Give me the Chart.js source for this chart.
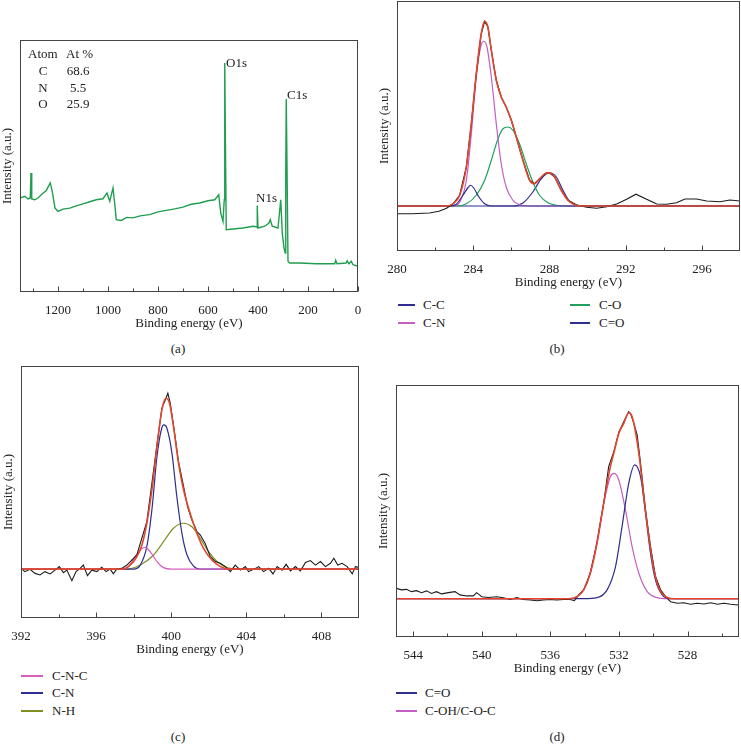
<!DOCTYPE html>
<html>
<head>
<meta charset="utf-8">
<script src="https://cdn.jsdelivr.net/npm/chart.js@4/dist/chart.umd.min.js"></script>
<style>
  body { margin: 0; width: 741px; height: 755px; position: relative; overflow: hidden; background: #fff;
         font-family: 'Liberation Serif', 'DejaVu Serif', serif; color: #222; }
  canvas { position: absolute; }
  .lbl { position: absolute; font-size: 13px; line-height: 16px; white-space: nowrap; transform: translateY(-50%); }
  .ctr { transform: translate(-50%, -50%); }
  .key { position: absolute; height: 1.5px; margin-top: -1px; }
</style>
</head>
<body>
<canvas id="chartA"></canvas>
<canvas id="chartB"></canvas>
<canvas id="chartC"></canvas>
<canvas id="chartD"></canvas>

<!-- (a) composition table and peak names -->
<div class="lbl" style="left:28px; top:54px">Atom</div>
<div class="lbl" style="left:66px; top:54px">At %</div>
<div class="lbl ctr" style="left:43px; top:71px">C</div>
<div class="lbl ctr" style="left:78px; top:71px">68.6</div>
<div class="lbl ctr" style="left:43px; top:88px">N</div>
<div class="lbl ctr" style="left:78px; top:88px">5.5</div>
<div class="lbl ctr" style="left:43px; top:104px">O</div>
<div class="lbl ctr" style="left:78px; top:104px">25.9</div>
<div class="lbl" style="left:226px; top:63px">O1s</div>
<div class="lbl" style="left:287px; top:95px">C1s</div>
<div class="lbl" style="left:256px; top:198px">N1s</div>

<!-- legends -->
<div class="key" style="left:398px; width:17px; top:305px; background:#2e2e8e"></div>
<div class="lbl" style="left:423px; top:305px">C-C</div>
<div class="key" style="left:398px; width:17px; top:323px; background:#c45ec4"></div>
<div class="lbl" style="left:423px; top:323px">C-N</div>
<div class="key" style="left:570px; width:20px; top:305px; background:#21a05c"></div>
<div class="lbl" style="left:599px; top:305px">C-O</div>
<div class="key" style="left:570px; width:20px; top:323px; background:#2e2e8e"></div>
<div class="lbl" style="left:599px; top:323px">C=O</div>

<div class="key" style="left:21px; width:22px; top:676px; background:#d85fc2"></div>
<div class="lbl" style="left:52px; top:676px">C-N-C</div>
<div class="key" style="left:21px; width:22px; top:693px; background:#2e2e8e"></div>
<div class="lbl" style="left:52px; top:693px">C-N</div>
<div class="key" style="left:21px; width:22px; top:711px; background:#7f8f22"></div>
<div class="lbl" style="left:52px; top:711px">N-H</div>

<div class="key" style="left:396px; width:21px; top:693px; background:#2e2e8e"></div>
<div class="lbl" style="left:425px; top:693px">C=O</div>
<div class="key" style="left:396px; width:21px; top:711px; background:#c45ec4"></div>
<div class="lbl" style="left:425px; top:711px">C-OH/C-O-C</div>

<!-- panel letters -->
<div class="lbl ctr" style="left:178px; top:349px">(a)</div>
<div class="lbl ctr" style="left:557px; top:349px">(b)</div>
<div class="lbl ctr" style="left:178px; top:737px">(c)</div>
<div class="lbl ctr" style="left:557px; top:737px">(d)</div>

<script>
// (a) survey spectrum: binding energy (eV) and intensity (a.u., 0-100 of the frame height)
const surveyE = [1352, 1333, 1320, 1311, 1308, 1305, 1293, 1280, 1267, 1247, 1231, 1223, 1212, 1200, 1180, 1153, 1127, 1100, 1073, 1047, 1020, 1004, 993, 980, 972, 967, 947, 925, 900, 867, 833, 800, 767, 733, 700, 667, 633, 600, 573, 557, 549, 540, 535, 533, 531, 527, 500, 460, 420, 404, 403, 400, 373, 356, 351, 343, 320, 309, 303, 296, 291, 289, 287, 284, 280, 273, 233, 167, 93, 89, 84, 47, 43, 36, 27, 20, 0];
const surveyI = [37.3, 38.0, 36.9, 37.3, 47.2, 36.9, 36.6, 37.3, 38.6, 40.3, 43.3, 39.9, 33.3, 32.0, 32.9, 33.3, 34.2, 35.0, 35.8, 36.6, 37.0, 39.3, 36.0, 41.3, 34.0, 28.7, 28.4, 29.6, 29.4, 30.3, 30.7, 31.8, 32.4, 33.0, 33.7, 34.8, 35.3, 36.2, 36.6, 38.6, 31.3, 28.0, 36.6, 90.9, 67.1, 24.7, 25.0, 25.4, 26.1, 25.8, 34.3, 25.4, 26.1, 27.4, 28.7, 26.1, 25.4, 36.6, 23.4, 17.5, 15.5, 47.2, 76.6, 49.9, 12.2, 11.5, 11.5, 11.2, 11.2, 12.6, 11.2, 11.5, 12.4, 11.2, 12.2, 10.8, 10.2];
const surveyMajor = [1200, 1000, 800, 600, 400, 200, 0];
const surveyMinor = [1300, 1100, 900, 700, 500, 300, 100];

// (b) C1s
const c1sRawE = [280, 280.8, 281.7, 282.2, 282.6, 282.94, 283.29, 283.64, 283.9, 284.16, 284.42, 284.6, 284.77, 284.95, 285.21, 285.47, 285.73, 286.0, 286.26, 286.61, 286.96, 287.22, 287.48, 287.83, 288.0, 288.27, 288.62, 288.97, 289.43, 289.95, 290.48, 291.0, 291.53, 292.05, 292.54, 293.1, 293.63, 294.15, 294.67, 295.11, 295.72, 296.25, 296.95, 297.47, 298];
const c1sRawI = [14.9, 14.9, 15.2, 15.9, 17.1, 18.9, 22.3, 33.6, 50.9, 70.9, 86.9, 91.9, 89.6, 80.3, 68.3, 61.6, 57.6, 52.3, 45.6, 36.3, 28.3, 26.9, 28.9, 31.2, 31.3, 29.6, 24.3, 20.3, 18.4, 17.5, 17.1, 17.7, 18.8, 20.7, 22.7, 20.7, 18.8, 18.7, 19.3, 20.8, 20.8, 20.0, 19.7, 20.4, 20.0];
const c1sFitE = [280, 282.59, 282.94, 283.29, 283.64, 283.9, 284.16, 284.42, 284.6, 284.77, 284.95, 285.21, 285.47, 285.73, 286.0, 286.26, 286.61, 286.96, 287.22, 287.48, 287.83, 288.0, 288.27, 288.62, 288.97, 289.32, 289.76, 298];
const c1sFitI = [18.0, 18.0, 18.9, 22.3, 33.6, 50.9, 70.9, 86.9, 91.9, 89.6, 80.3, 68.3, 61.6, 57.6, 52.3, 45.6, 36.3, 28.3, 26.9, 28.9, 31.2, 31.3, 29.6, 24.3, 20.3, 18.5, 18.0, 18.0];
const c1sCCE = [280, 282.76, 283.11, 283.46, 283.72, 283.86, 284.02, 284.3, 284.6, 284.95, 298];
const c1sCCI = [18.0, 18.0, 18.7, 22.3, 25.3, 26.3, 25.3, 21.6, 18.9, 18.0, 18.0];
const c1sCNE = [280, 282.94, 283.29, 283.64, 283.9, 284.16, 284.39, 284.55, 284.72, 284.95, 285.21, 285.47, 285.73, 286.08, 286.52, 286.96, 298];
const c1sCNI = [18.0, 18.0, 19.6, 28.3, 46.9, 69.6, 81.6, 83.9, 81.6, 69.6, 50.9, 34.9, 25.6, 20.3, 18.3, 18.0, 18.0];
const c1sCOE = [280, 283.11, 283.64, 284.16, 284.6, 284.95, 285.3, 285.56, 285.82, 286.08, 286.43, 286.78, 287.13, 287.48, 287.92, 288.36, 288.88, 298];
const c1sCOI = [18.0, 18.0, 18.9, 22.3, 28.3, 36.3, 44.9, 48.9, 49.6, 48.3, 42.9, 34.9, 27.6, 22.3, 19.3, 18.3, 18.0, 18.0];
const c1sCdOE = [280, 286.08, 286.61, 287.13, 287.57, 288.0, 288.36, 288.71, 289.06, 289.49, 289.93, 298];
const c1sCdOI = [18.0, 18.0, 19.2, 23.6, 28.9, 31.3, 29.6, 24.3, 19.9, 18.3, 18.0, 18.0];
const c1sMajor = [280, 284, 288, 292, 296];
const c1sMinor = [282, 286, 290, 294];

// (c) N1s
const n1sRawE = [392.00, 392.21, 392.48, 392.75, 393.01, 393.28, 393.55, 393.81, 394.04, 394.26, 394.44, 394.71, 394.93, 395.15, 395.32, 395.54, 395.77, 396.04, 396.30, 396.53, 396.75, 396.92, 397.10, 397.37, 397.64, 398.17, 398.70, 399.24, 399.50, 399.72, 399.82, 399.95, 400.12, 400.39, 400.66, 400.87, 401.10, 401.37, 401.55, 401.81, 402.08, 402.35, 402.61, 402.88, 403.15, 403.41, 403.68, 403.95, 404.12, 404.39, 404.66, 404.92, 405.19, 405.42, 405.64, 405.90, 406.12, 406.35, 406.61, 406.88, 407.15, 407.41, 407.68, 407.95, 408.21, 408.48, 408.66, 408.87, 409.10, 409.37, 409.64, 409.81, 410.00];
const n1sRawI = [19.7, 18.4, 19.3, 17.7, 17.1, 18.4, 17.5, 19.0, 20.4, 18.0, 19.0, 14.8, 18.4, 19.7, 21.0, 16.8, 19.0, 18.4, 20.1, 18.4, 19.4, 17.5, 19.4, 19.7, 21.0, 25.0, 38.2, 68.7, 83.2, 87.2, 89.2, 85.2, 76.6, 62.0, 52.1, 44.2, 38.9, 34.3, 32.9, 29.6, 24.3, 22.4, 21.7, 20.4, 18.4, 21.0, 19.0, 20.4, 18.4, 19.3, 20.4, 18.4, 19.7, 17.5, 20.4, 19.0, 21.3, 18.7, 20.4, 18.7, 22.0, 22.8, 21.0, 22.4, 20.4, 21.7, 23.7, 21.0, 21.7, 20.4, 17.5, 20.4, 20.1];
const n1sFitE = [392, 397.46, 397.81, 398.17, 398.44, 398.7, 398.97, 399.24, 399.5, 399.72, 399.91, 400.12, 400.39, 400.66, 401.01, 401.37, 401.72, 402.17, 402.61, 403.15, 410];
const n1sFitI = [19.4, 19.4, 21.0, 24.3, 29.0, 37.6, 50.8, 68.0, 82.5, 87.2, 85.2, 75.9, 61.4, 50.8, 41.5, 33.6, 27.6, 23.0, 20.4, 19.4, 19.4];
const n1sCNCE = [392, 397.28, 397.72, 398.08, 398.35, 398.6, 398.88, 399.24, 399.59, 400.04, 410];
const n1sCNCI = [19.4, 19.4, 20.4, 24.3, 27.0, 28.0, 26.3, 22.4, 20.0, 19.4, 19.4];
const n1sCNE = [392, 397.99, 398.35, 398.7, 398.97, 399.24, 399.47, 399.61, 399.77, 400.04, 400.3, 400.57, 400.84, 401.19, 401.55, 410];
const n1sCNI = [19.4, 19.4, 21.0, 28.3, 42.9, 64.0, 74.6, 76.6, 75.3, 65.3, 48.1, 33.6, 25.0, 20.6, 19.4, 19.4];
const n1sNHE = [392, 397.64, 398.35, 399.06, 399.59, 400.12, 400.64, 401.1, 401.55, 401.99, 402.44, 402.97, 403.5, 410];
const n1sNHI = [19.4, 19.4, 21.0, 25.0, 30.3, 35.6, 37.6, 36.2, 31.6, 26.3, 22.4, 20.0, 19.4, 19.4];
const n1sMajor = [392, 396, 400, 404, 408];
const n1sMinor = [394, 398, 402, 406];

// (d) O1s
const o1sRawE = [544.97, 544.68, 544.39, 544.10, 543.81, 543.51, 543.22, 542.93, 542.64, 542.34, 541.95, 541.56, 541.27, 540.88, 540.49, 540.30, 540.00, 539.61, 539.13, 538.74, 538.35, 537.96, 537.57, 537.18, 536.79, 536.40, 536.01, 535.62, 535.23, 534.84, 534.60, 534.35, 534.06, 533.67, 533.28, 532.89, 532.60, 532.30, 532.01, 531.72, 531.43, 531.33, 531.13, 530.94, 530.74, 530.45, 530.16, 529.87, 529.57, 529.28, 528.99, 528.60, 528.21, 527.82, 527.43, 527.04, 526.65, 526.26, 525.87, 525.48, 525.09, 525.00];
const o1sRawI = [19.3, 18.7, 18.9, 18.0, 18.4, 17.6, 18.3, 17.3, 18.0, 17.1, 17.6, 18.0, 16.7, 16.3, 16.3, 17.6, 16.0, 15.7, 16.0, 15.6, 14.9, 15.6, 14.9, 14.7, 14.4, 14.7, 14.9, 14.7, 14.9, 14.9, 14.4, 16.7, 18.7, 25.3, 37.2, 53.0, 67.6, 73.5, 81.3, 85.4, 89.4, 88.8, 84.8, 80.2, 68.9, 50.4, 36.0, 24.1, 18.7, 16.0, 14.0, 13.4, 13.6, 13.0, 13.4, 13.1, 13.6, 13.0, 13.4, 13.0, 12.7, 13.0];
const o1sFitE = [545, 534.84, 534.45, 534.06, 533.67, 533.28, 532.89, 532.5, 532.3, 532.01, 531.72, 531.43, 531.23, 530.84, 530.55, 530.26, 529.96, 529.67, 529.28, 528.8, 525];
const o1sFitI = [15.2, 15.2, 16.0, 18.7, 25.3, 37.2, 53.0, 67.6, 72.9, 80.8, 84.8, 89.0, 87.4, 72.9, 55.7, 39.8, 26.6, 19.3, 16.0, 15.2, 15.2];
const o1sCdOE = [545, 534.06, 533.28, 532.69, 532.2, 531.82, 531.43, 531.08, 530.74, 530.45, 530.16, 529.87, 529.48, 528.99, 525];
const o1sCdOI = [15.2, 15.2, 15.6, 18.7, 27.9, 43.8, 61.0, 68.3, 63.6, 49.1, 33.2, 22.6, 16.7, 15.2, 15.2];
const o1sCOHE = [545, 535.23, 534.45, 533.87, 533.38, 532.89, 532.5, 532.27, 532.01, 531.62, 531.23, 530.84, 530.35, 529.77, 529.18, 525];
const o1sCOHI = [15.2, 15.2, 16.0, 21.3, 34.5, 53.0, 63.6, 64.9, 62.3, 50.4, 35.8, 25.3, 18.0, 15.6, 15.2, 15.2];
const o1sMajor = [544, 540, 536, 532, 528];
const o1sMinor = [542, 538, 534, 530, 526];

const FONT = { family: "'Liberation Serif', 'DejaVu Serif', serif", size: 13 };
const TEXT = '#222';

function toPoints(xs, ys) {
    return xs.map((x, i) => ({ x: x, y: ys[i] }));
}

// a line dataset; smooth fitted curves, straight segments for the measured data
function series(xs, ys, color, width, smooth, order) {
    return {
        data: toPoints(xs, ys),
        borderColor: color,
        borderWidth: width,
        pointRadius: 0,
        fill: false,
        tension: 0,
        cubicInterpolationMode: smooth ? 'monotone' : 'default',
        order: order
    };
}

// box round the plot and inward tick marks on the energy axis
const framePlugin = {
    id: 'frame',
    afterDraw(chart, args, opts) {
        const ctx = chart.ctx;
        const a = chart.chartArea;
        const x = chart.scales.x;
        const l = Math.round(a.left) + 0.5, t = Math.round(a.top) + 0.5;
        const r = Math.round(a.right) - 0.5, b = Math.round(a.bottom) - 0.5;
        ctx.save();
        ctx.strokeStyle = '#444';
        ctx.lineWidth = 1;
        ctx.strokeRect(l, t, r - l, b - t);
        ctx.beginPath();
        opts.major.forEach(v => {
            const px = Math.round(x.getPixelForValue(v)) + 0.5;
            ctx.moveTo(px, b); ctx.lineTo(px, b - 5);
        });
        opts.minor.forEach(v => {
            const px = Math.round(x.getPixelForValue(v)) + 0.5;
            ctx.moveTo(px, b); ctx.lineTo(px, b - 3);
        });
        ctx.stroke();
        ctx.restore();
    }
};

// plot: frame edges in page pixels
function makePanel(id, plot, xMin, xMax, reverse, major, minor, datasets) {
    const padR = Math.min(12, 741 - plot.R);
    const left = plot.L - 20;
    const top = Math.max(0, plot.T - 2);
    const canvas = document.getElementById(id);
    canvas.width = plot.R + padR - left;
    canvas.height = plot.B + 43 - top;
    canvas.style.left = left + 'px';
    canvas.style.top = top + 'px';

    new Chart(canvas.getContext('2d'), {
        type: 'line',
        data: { datasets: datasets },
        plugins: [framePlugin],
        options: {
            responsive: false,
            animation: false,
            devicePixelRatio: 1,
            layout: { padding: { left: 0, top: plot.T - top, right: padR, bottom: 0 } },
            plugins: {
                legend: { display: false },
                tooltip: { enabled: false },
                frame: { major: major, minor: minor }
            },
            scales: {
                x: {
                    type: 'linear',
                    min: xMin,
                    max: xMax,
                    reverse: reverse,
                    grid: { display: false },
                    border: { display: false },
                    ticks: { font: FONT, color: TEXT, padding: 3, maxRotation: 0, autoSkip: false,
                             callback: v => String(v) },
                    afterBuildTicks: s => { s.ticks = major.map(v => ({ value: v })); },
                    afterFit: s => { s.height = 43; },
                    title: { display: true, text: 'Binding energy (eV)', font: FONT, color: TEXT,
                             padding: { top: 0, bottom: 4 } }
                },
                y: {
                    min: 0,
                    max: 100,
                    grid: { display: false },
                    border: { display: false },
                    ticks: { display: false },
                    afterFit: s => { s.width = 20; },
                    title: { display: true, text: 'Intensity (a.u.)', font: FONT, color: TEXT,
                             padding: { top: 0, bottom: 0 } }
                }
            }
        }
    });
}

const RED = '#e2472d', RAW = '#1c1c1c', NAVY = '#2e2e8e', ORCHID = '#c45ec4';

makePanel('chartA', { L: 20, T: 40, R: 358, B: 292 }, 0, 1352, true, surveyMajor, surveyMinor, [
    series(surveyE, surveyI, '#1f9e4f', 1.4, false, 0)
]);

makePanel('chartB', { L: 397, T: 1, R: 740, B: 251 }, 280, 298, false, c1sMajor, c1sMinor, [
    series(c1sFitE, c1sFitI, RED, 1.6, true, 0),
    series(c1sRawE, c1sRawI, RAW, 1.2, false, 1),
    series(c1sCCE, c1sCCI, NAVY, 1.2, true, 2),
    series(c1sCNE, c1sCNI, ORCHID, 1.2, true, 2),
    series(c1sCOE, c1sCOI, '#21a05c', 1.2, true, 2),
    series(c1sCdOE, c1sCdOI, NAVY, 1.2, true, 2)
]);

makePanel('chartC', { L: 21, T: 366, R: 359, B: 618 }, 392, 410, false, n1sMajor, n1sMinor, [
    series(n1sFitE, n1sFitI, RED, 1.6, true, 0),
    series(n1sRawE, n1sRawI, RAW, 1.1, false, 1),
    series(n1sCNCE, n1sCNCI, '#d85fc2', 1.2, true, 2),
    series(n1sCNE, n1sCNI, NAVY, 1.2, true, 2),
    series(n1sNHE, n1sNHI, '#7f8f22', 1.2, true, 2)
]);

makePanel('chartD', { L: 396, T: 385, R: 739, B: 637 }, 525, 545, true, o1sMajor, o1sMinor, [
    series(o1sFitE, o1sFitI, RED, 1.6, true, 0),
    series(o1sRawE, o1sRawI, RAW, 1.1, false, 1),
    series(o1sCdOE, o1sCdOI, NAVY, 1.2, true, 2),
    series(o1sCOHE, o1sCOHI, ORCHID, 1.2, true, 2)
]);
</script>
</body>
</html>
